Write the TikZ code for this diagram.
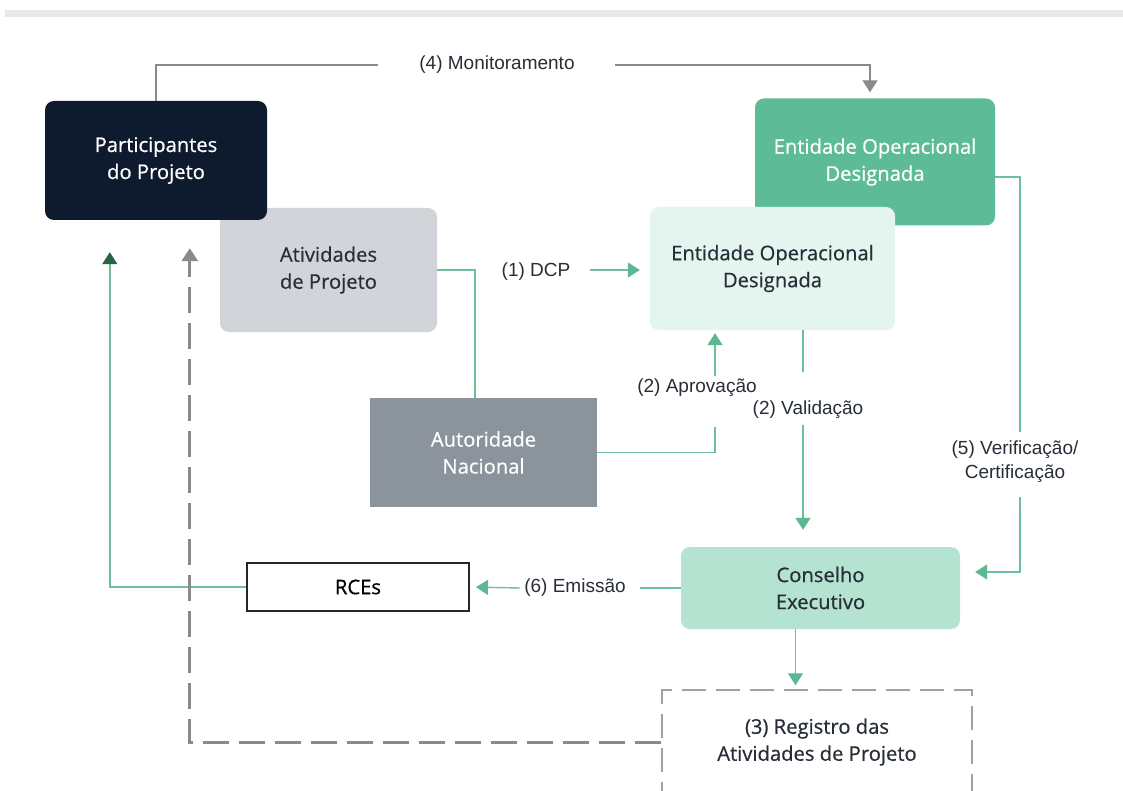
\documentclass[tikz,border=0pt]{standalone}
\usepackage{fontspec}
\setmainfont{Open Sans}
\newfontfamily\boxfont[FakeBold=0.6]{Open Sans}
\newfontfamily\lblfont{Liberation Sans}
\usepackage{xcolor}
\usetikzlibrary{
  arrows.meta,
  calc,
  positioning
}
\definecolor{navyblock}{RGB}{14,26,46}
\definecolor{eodgreen}{RGB}{93,187,151}
\definecolor{eodlight}{RGB}{228,244,238}
\definecolor{atvgray}{RGB}{209,212,217}
\definecolor{authgray}{RGB}{139,147,156}
\definecolor{boardmint}{RGB}{180,227,209}
\definecolor{linegreen}{RGB}{108,191,159}
\definecolor{tipgreen}{RGB}{92,184,146}
\definecolor{tipdark}{RGB}{38,100,70}
\definecolor{linegray}{RGB}{138,138,138}
\definecolor{textdark}{RGB}{40,46,56}
\definecolor{bargray}{RGB}{232,232,232}

\begin{document}
\begin{tikzpicture}[
  x=1pt, y=-1pt,
  box/.style={rounded corners=9pt, align=center, inner sep=0pt,
              font=\boxfont\fontsize{20.2}{27}\selectfont},
  partbox/.style={box, fill=navyblock, text=white},
  atvbox/.style={box, fill=atvgray, text=textdark},
  eodbox/.style={box, fill=eodgreen, text=white},
  eolbox/.style={box, fill=eodlight, text=textdark},
  authbox/.style={box, rounded corners=0pt, fill=authgray, text=white},
  rcebox/.style={box, rounded corners=0pt, draw=black!85, line width=2pt, fill=white, text=black},
  boardbox/.style={box, fill=boardmint, text=textdark},
  regbox/.style={box, rounded corners=0pt, draw=linegray!80, line width=1.5pt,
                 dash pattern=on 24pt off 10pt, text=textdark},
  lbl/.style={font=\lblfont\fontsize{19}{24}\selectfont, text=textdark, align=center, inner sep=0pt},
  gline/.style={draw=linegreen, line width=1.4pt},
  garr/.style={gline, -{Triangle[width=15pt, length=12pt, color=tipgreen]}},
  garrdk/.style={gline, -{Triangle[width=15pt, length=12pt, color=tipdark]}},
  grayline/.style={draw=linegray, line width=1.4pt},
  grayarr/.style={grayline, -{Triangle[width=15pt, length=12pt]}},
  backarr/.style={draw=linegray, line width=3pt, dash pattern=on 26pt off 10pt,
                  -{Triangle[width=16pt, length=13pt]}}
]

\path[use as bounding box, clip] (0,0) rectangle (1123,791);
\fill[white] (0,0) rectangle (1123,791);
\fill[bargray] (5,10) rectangle (1123,17);

\node[atvbox, minimum width=217pt, minimum height=124pt] (atv) at (328.5,270) {Atividades\\de Projeto};
\node[partbox, minimum width=222pt, minimum height=119pt] (part) at (156,160.5) {Participantes\\do Projeto};
\node[eodbox, minimum width=240pt, minimum height=127pt] (eodD) at (875,162) {Entidade Operacional\\Designada};
\node[eolbox, minimum width=245pt, minimum height=123pt] (eodL) at (772.5,268.5) {Entidade Operacional\\Designada};
\node[authbox, minimum width=227pt, minimum height=109pt] (auth) at (483.5,452.5) {Autoridade\\Nacional};
\node[rcebox, minimum width=222pt, minimum height=48pt] (rce) at (358,587) {RCEs};
\node[boardbox, minimum width=279pt, minimum height=82pt] (con) at (820.5,588) {Conselho\\Executivo};
\node[regbox, minimum width=310pt, minimum height=104pt] (reg) at (817,742) {(3) Registro das\\Atividades de Projeto};

% labels on the connectors
\node[lbl] (mon) at (497,65) {(4) Monitoramento};
\node[lbl] (dcp) at (536,272) {(1) DCP};
\node[lbl] (apr) at (697,388) {(2) Aprovação};
\node[lbl] (val) at (808,410) {(2) Validação};
\node[lbl] (ver) at (1015,462) {(5) Verificação/\\Certificação};
\node[lbl] (emi) at (575,588) {(6) Emissão};

\coordinate (monL) at (378,65);
\coordinate (monR) at (615,65);
\coordinate (dcpR) at (590,270);
\coordinate (aprB) at (715,427);
\coordinate (aprT) at (715,376);
\coordinate (valT) at (803,372);
\coordinate (valB) at (803,425);
\coordinate (verT) at (1020,432);
\coordinate (verB) at (1020,497);
\coordinate (emiR) at (640,588);
\coordinate (emiL) at (520,588);

\draw[grayline] (part.north) |- (monL);
\draw[grayarr, shorten >=6pt] (monR) -| ([xshift=-5pt]eodD.north);

\draw[gline] (atv.east) -| ([xshift=-8.5pt]auth.north);
\draw[garr, shorten >=10pt] (dcpR) -- (eodL.west |- dcpR);

\draw[gline] (auth.east) -| (aprB);
\draw[garr, shorten >=3pt] (aprT) -- (aprT |- eodL.south);

\draw[gline] (eodL.south -| valT) -- (valT);
\draw[garr, shorten >=17pt] (valB) -- (valB |- con.north);

\draw[gline] ([yshift=-15pt]eodD.east) -| (verT);
\draw[garr, shorten >=15pt] (verB) |- ([yshift=16pt]con.east);

\draw[gline] (con.west) -- (emiR);
\draw[garr, shorten >=6pt] (emiL) -- (rce.east);

\draw[garrdk, shorten >=32pt] (rce.west) -| ([xshift=65pt]part.south west);
\draw[garr, shorten >=4pt] ([xshift=-25pt]con.south) -- ([xshift=-25pt]con.south |- reg.north);
\draw[backarr, shorten >=28pt] (reg.west) -| ([xshift=145pt]part.south west);

\end{tikzpicture}
\end{document}
